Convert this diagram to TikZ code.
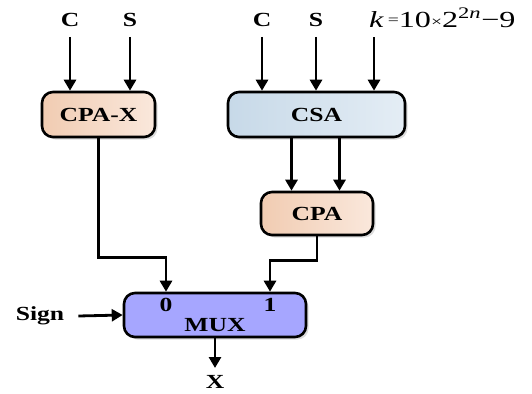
\documentclass[tikz,border=0pt]{standalone}
\usepackage{fontspec}
\setmainfont{Liberation Serif}
\newfontfamily\labfont{Liberation Serif}[FakeStretch=1.28]
\usetikzlibrary{arrows.meta,shadows,calc}

\definecolor{peachL}{RGB}{241,204,178}
\definecolor{peachR}{RGB}{250,232,220}
\definecolor{blueL}{RGB}{199,217,232}
\definecolor{blueR}{RGB}{228,237,245}
\definecolor{muxfill}{RGB}{166,166,255}

\tikzset{
  wire/.style={line width=2.8pt, draw=black},
  arr/.style={wire, -{Triangle[length=11pt,width=12pt]}},
  blk/.style={draw=black, line width=2.6pt, rounded corners=11pt,
    font=\labfont\fontsize{20}{22}\selectfont\bfseries,
    drop shadow={shadow xshift=2.5pt, shadow yshift=-2.5pt, opacity=0.22, fill=black!60}},
  peach/.style={blk, left color=peachL, right color=peachR},
  blue/.style={blk, left color=blueL, right color=blueR},
  muxbox/.style={blk, fill=muxfill},
  lbl/.style={font=\labfont\fontsize{20}{22}\selectfont\bfseries, inner sep=0pt}
}

\begin{document}
\begin{tikzpicture}[x=1pt,y=-1pt]
  \useasboundingbox (0,0) rectangle (532,393);
  \fill[white] (0,0) rectangle (532,393);

  % blocks
  \node[peach, minimum width=113pt, minimum height=45pt] (cpax) at (98.5,114.5) {CPA-X};
  \node[blue,  minimum width=177pt, minimum height=45pt] (csa)  at (316.5,114.5) {CSA};
  \node[peach, minimum width=112pt, minimum height=43pt] (cpa)  at (317,213.5) {CPA};
  \node[muxbox, minimum width=182pt, minimum height=44pt] (mux) at (215,315) {};
  \node[lbl] (muxt) at (215,325) {MUX};
  \node[lbl] (zero) at (166,305) {0};
  \node[lbl] (one)  at (270,305) {1};

  % input labels
  \node[lbl, anchor=south] (c1) at (70,27) {C};
  \node[lbl, anchor=south] (s1) at (130,27) {S};
  \node[lbl, anchor=south] (c2) at (262,27) {C};
  \node[lbl, anchor=south] (s2) at (316,27) {S};
  \node[inner sep=0pt, anchor=base west, font=\fontsize{23}{25}\selectfont] (kf) at (369,28)
    {\addfontfeature{FakeStretch=1.4}\textit{k}\,\raisebox{3pt}{\fontsize{14}{15}\selectfont=}10\raisebox{1pt}{\fontsize{14}{15}\selectfont×}2\textsuperscript{2\textit{n}}−9};
  \node[lbl] (sign) at (40,316) {Sign};
  \node[lbl, anchor=north] (xo) at (215,375) {X};

  % port points on the multiplexer
  \coordinate (in0) at (zero |- mux.north);
  \coordinate (in1) at (one |- mux.north);

  % inputs
  \draw[arr] ([yshift=-10pt]c1.south) -- (c1 |- cpax.north);
  \draw[arr] ([yshift=-10pt]s1.south) -- (s1 |- cpax.north);
  \draw[arr] ([yshift=-10pt]c2.south) -- (c2 |- csa.north);
  \draw[arr] ([yshift=-10pt]s2.south) -- (s2 |- csa.north);
  \draw[arr] ([xshift=5pt,yshift=-9pt]kf.south west) -- ([xshift=5pt]kf.south west |- csa.north);

  % CSA to CPA
  \draw[arr] ([xshift=-25pt]csa.south) -- ([xshift=-25pt]csa.south |- cpa.north);
  \draw[arr] ([xshift=23pt]csa.south) -- ([xshift=23pt]csa.south |- cpa.north);

  % adders to the multiplexer
  \draw[arr] (cpax.south) -- ($(cpax.south |- in0)+(0,-34)$) -| (in0);
  \draw[arr] (cpa.south) -- ($(cpa.south |- in1)+(0,-31)$) -| (in1);

  % select and output
  \draw[arr] ([xshift=14pt]sign.east) -- (mux.west);
  \draw[arr] (mux.south) -- ([yshift=7pt]xo.north);
\end{tikzpicture}
\end{document}
